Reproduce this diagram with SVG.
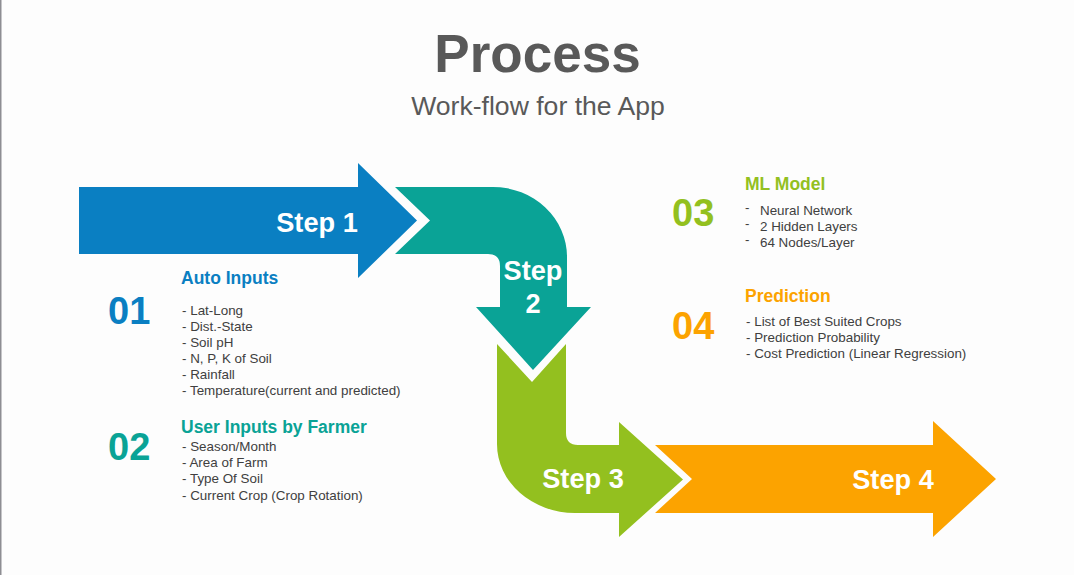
<svg xmlns="http://www.w3.org/2000/svg" width="1074" height="575" viewBox="0 0 1074 575">
<style>
text{font-family:"Liberation Sans",Arial,sans-serif}
.step{font-size:27.2px;font-weight:bold;fill:#ffffff;text-anchor:middle}
.num{font-size:38px;font-weight:bold}
.head{font-size:17.5px;font-weight:bold}
.item{font-size:13.4px;fill:#404040}
.blue{fill:#0a7fc2}.teal{fill:#0aa396}.green{fill:#93c01f}.orange{fill:#fca300}
</style>
<rect x="0" y="0" width="1074" height="575" fill="#fdfdfd"/>
<line x1="0.75" y1="0" x2="0.75" y2="575" stroke="#8e8e93" stroke-width="1.5"/>
<g id="title">
<text x="537.5" y="72" text-anchor="middle" font-size="53" font-weight="bold" fill="#595959">Process</text>
<text x="538" y="115" text-anchor="middle" font-size="26.6" fill="#595959">Work-flow for the App</text>
</g>
<g id="step1">
<path class="blue" d="M79,187 L358,187 L358,163 L417,220.5 L358,278 L358,254 L79,254 Z"/>
<text class="step" x="317" y="232">Step 1</text>
</g>
<g id="step2">
<path class="teal" d="M395,187 L493,187 A74,70 0 0 1 567,257 L567,307 L591,307 L533,370 L476,307 L500,307 L500,266 Q500,254 488,254 L395,254 L430,220.5 Z"/>
<text class="step" x="533" y="280">Step</text>
<text class="step" x="533" y="313">2</text>
</g>
<g id="step3">
<path class="green" d="M497,344 L532,382 L566,344 L566,433 Q566,445 578,445 L619,445 L619,422 L683,479.5 L619,537 L619,513 L575,513 A78,69 0 0 1 497,444 Z"/>
<text class="step" x="583" y="488">Step 3</text>
</g>
<g id="step4">
<path class="orange" d="M655,445 L933,445 L933,421 L996,479 L933,537 L933,513 L655,513 L692,479 Z"/>
<text class="step" x="893" y="489">Step 4</text>
</g>
<g id="info01">
<text class="num blue" x="108" y="324">01</text>
<text class="head blue" x="181" y="284">Auto Inputs</text>
<text class="item" x="182" y="315">- Lat-Long</text>
<text class="item" x="182" y="331">- Dist.-State</text>
<text class="item" x="182" y="347">- Soil pH</text>
<text class="item" x="182" y="363">- N, P, K of Soil</text>
<text class="item" x="182" y="379">- Rainfall</text>
<text class="item" x="182" y="395">- Temperature(current and predicted)</text>
</g>
<g id="info02">
<text class="num teal" x="108" y="460">02</text>
<text class="head teal" x="181" y="433">User Inputs by Farmer</text>
<text class="item" x="182" y="451">- Season/Month</text>
<text class="item" x="182" y="467">- Area of Farm</text>
<text class="item" x="182" y="483">- Type Of Soil</text>
<text class="item" x="182" y="500">- Current Crop (Crop Rotation)</text>
</g>
<g id="info03">
<text class="num green" x="672" y="226">03</text>
<text class="head green" x="745" y="190">ML Model</text>
<text class="item" x="745" y="212">-</text>
<text class="item" x="760" y="215">Neural Network</text>
<text class="item" x="745" y="228">-</text>
<text class="item" x="760" y="231">2 Hidden Layers</text>
<text class="item" x="745" y="244">-</text>
<text class="item" x="760" y="247">64 Nodes/Layer</text>
</g>
<g id="info04">
<text class="num orange" x="672" y="339">04</text>
<text class="head orange" x="745" y="302">Prediction</text>
<text class="item" x="746" y="326">- List of Best Suited Crops</text>
<text class="item" x="746" y="342">- Prediction Probability</text>
<text class="item" x="746" y="358">- Cost Prediction (Linear Regression)</text>
</g>
<g id="connectors"></g>
</svg>
